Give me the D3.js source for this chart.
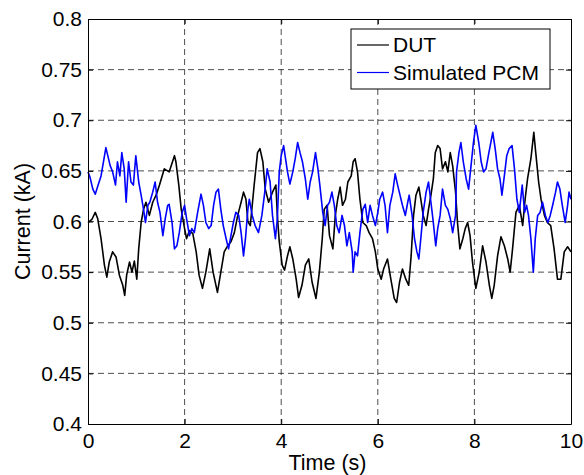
<!DOCTYPE html>
<html>
<head>
<meta charset="utf-8">
<script src="https://cdn.jsdelivr.net/npm/d3@7"></script>
<style>
  body { margin: 0; background: #fff; }
  svg text { font-family: "Liberation Sans", Arial, sans-serif; }
</style>
</head>
<body>
<div id="plot"></div>
<script>
// Data (time in s, current in kA)
const dutTime = [0, 0.08, 0.15, 0.20, 0.27, 0.34, 0.39, 0.44, 0.51, 0.58, 0.65, 0.72, 0.76, 0.80, 0.86, 0.91, 0.96, 1.01, 1.05, 1.10,
  1.15, 1.20, 1.27, 1.34, 1.41, 1.48, 1.58, 1.68, 1.79, 1.82, 1.88, 1.93, 2.00, 2.04, 2.10, 2.17, 2.24, 2.30, 2.37, 2.44,
  2.52, 2.59, 2.68, 2.75, 2.82, 2.89, 2.96, 3.03, 3.10, 3.17, 3.22, 3.27, 3.31, 3.36, 3.44, 3.51, 3.56, 3.62, 3.67, 3.74,
  3.82, 3.89, 3.92, 3.96, 4.02, 4.07, 4.13, 4.18, 4.24, 4.31, 4.36, 4.43, 4.50, 4.57, 4.64, 4.72, 4.79, 4.85, 4.89, 4.95,
  5.00, 5.07, 5.12, 5.17, 5.22, 5.27, 5.33, 5.38, 5.45, 5.49, 5.53, 5.58, 5.63, 5.69, 5.76, 5.82, 5.89, 5.95, 6.00, 6.07,
  6.12, 6.20, 6.27, 6.34, 6.39, 6.45, 6.51, 6.58, 6.64, 6.69, 6.74, 6.79, 6.85, 6.89, 6.94, 7.00, 7.05, 7.10, 7.15, 7.19,
  7.24, 7.29, 7.34, 7.40, 7.45, 7.50, 7.55, 7.61, 7.65, 7.70, 7.76, 7.81, 7.86, 7.91, 7.96, 8.03, 8.10, 8.17, 8.24, 8.31,
  8.36, 8.41, 8.48, 8.55, 8.62, 8.69, 8.74, 8.79, 8.86, 8.93, 9.00, 9.05, 9.10, 9.17, 9.23, 9.27, 9.33, 9.38, 9.45, 9.51,
  9.58, 9.65, 9.72, 9.79, 9.86, 9.93, 10.0];
const dutCurrent = [0.599, 0.602, 0.609, 0.603, 0.583, 0.557, 0.545, 0.560, 0.570, 0.565, 0.547, 0.537, 0.527, 0.547, 0.560, 0.550, 0.561, 0.543, 0.573, 0.599,
  0.612, 0.619, 0.606, 0.619, 0.626, 0.636, 0.652, 0.649, 0.665, 0.659, 0.636, 0.612, 0.593, 0.583, 0.591, 0.588, 0.570, 0.547, 0.534, 0.550,
  0.573, 0.550, 0.530, 0.550, 0.570, 0.576, 0.580, 0.589, 0.606, 0.619, 0.629, 0.622, 0.600, 0.596, 0.636, 0.668, 0.672, 0.659, 0.632, 0.619,
  0.629, 0.636, 0.606, 0.580, 0.557, 0.552, 0.566, 0.575, 0.563, 0.543, 0.525, 0.537, 0.557, 0.563, 0.540, 0.524, 0.550, 0.583, 0.612, 0.616,
  0.586, 0.573, 0.606, 0.622, 0.634, 0.616, 0.622, 0.639, 0.645, 0.659, 0.662, 0.649, 0.622, 0.599, 0.596, 0.589, 0.583, 0.570, 0.553, 0.543,
  0.553, 0.563, 0.543, 0.524, 0.520, 0.540, 0.553, 0.543, 0.537, 0.566, 0.606, 0.626, 0.634, 0.622, 0.606, 0.596, 0.612, 0.626, 0.642, 0.668,
  0.675, 0.672, 0.652, 0.659, 0.649, 0.668, 0.655, 0.629, 0.599, 0.573, 0.583, 0.593, 0.599, 0.586, 0.560, 0.534, 0.550, 0.576, 0.560, 0.537,
  0.524, 0.537, 0.566, 0.585, 0.576, 0.563, 0.550, 0.573, 0.609, 0.616, 0.596, 0.622, 0.642, 0.662, 0.688, 0.668, 0.639, 0.622, 0.606, 0.599,
  0.596, 0.573, 0.543, 0.543, 0.570, 0.575, 0.570];

const pcmTime = [0, 0.04, 0.10, 0.15, 0.21, 0.27, 0.32, 0.37, 0.41, 0.46, 0.51, 0.57, 0.61, 0.66, 0.70, 0.75, 0.79, 0.84, 0.89, 0.94,
  0.99, 1.05, 1.10, 1.15, 1.19, 1.24, 1.28, 1.34, 1.39, 1.44, 1.49, 1.55, 1.60, 1.65, 1.68, 1.74, 1.79, 1.84, 1.89, 1.95,
  2.00, 2.04, 2.10, 2.15, 2.20, 2.27, 2.34, 2.39, 2.44, 2.50, 2.55, 2.60, 2.65, 2.70, 2.75, 2.80, 2.86, 2.91, 2.96, 3.01,
  3.06, 3.12, 3.17, 3.22, 3.26, 3.31, 3.34, 3.40, 3.46, 3.53, 3.60, 3.66, 3.71, 3.77, 3.82, 3.88, 3.92, 3.96, 4.00, 4.05,
  4.09, 4.13, 4.18, 4.24, 4.29, 4.34, 4.39, 4.44, 4.50, 4.55, 4.60, 4.65, 4.71, 4.76, 4.80, 4.86, 4.91, 4.96, 5.00, 5.05,
  5.10, 5.15, 5.20, 5.26, 5.31, 5.36, 5.41, 5.47, 5.49, 5.53, 5.58, 5.63, 5.69, 5.74, 5.79, 5.84, 5.89, 5.95, 6.00, 6.04,
  6.10, 6.15, 6.20, 6.25, 6.31, 6.36, 6.41, 6.46, 6.51, 6.57, 6.62, 6.65, 6.71, 6.76, 6.81, 6.85, 6.89, 6.94, 7.00, 7.05,
  7.10, 7.14, 7.20, 7.24, 7.29, 7.34, 7.40, 7.45, 7.50, 7.55, 7.61, 7.63, 7.68, 7.72, 7.77, 7.83, 7.88, 7.93, 7.98, 8.03,
  8.09, 8.14, 8.19, 8.24, 8.30, 8.34, 8.38, 8.43, 8.48, 8.53, 8.57, 8.62, 8.67, 8.72, 8.78, 8.83, 8.88, 8.93, 8.99, 9.04,
  9.08, 9.12, 9.17, 9.22, 9.26, 9.31, 9.36, 9.41, 9.47, 9.52, 9.57, 9.62, 9.68, 9.72, 9.77, 9.82, 9.88, 9.93, 9.96, 10.0];
const pcmCurrent = [0.649, 0.644, 0.632, 0.627, 0.636, 0.645, 0.659, 0.673, 0.665, 0.655, 0.649, 0.636, 0.659, 0.645, 0.668, 0.652, 0.619, 0.659, 0.639, 0.636,
  0.665, 0.639, 0.626, 0.612, 0.599, 0.616, 0.619, 0.629, 0.639, 0.619, 0.609, 0.586, 0.603, 0.616, 0.617, 0.599, 0.573, 0.576, 0.589, 0.609,
  0.616, 0.603, 0.586, 0.593, 0.589, 0.609, 0.627, 0.616, 0.599, 0.593, 0.596, 0.616, 0.629, 0.632, 0.612, 0.596, 0.583, 0.573, 0.586, 0.599,
  0.609, 0.606, 0.589, 0.566, 0.583, 0.612, 0.622, 0.606, 0.596, 0.589, 0.606, 0.629, 0.652, 0.639, 0.606, 0.583, 0.603, 0.649, 0.665, 0.675,
  0.662, 0.649, 0.637, 0.649, 0.662, 0.678, 0.668, 0.659, 0.642, 0.622, 0.639, 0.649, 0.668, 0.652, 0.636, 0.609, 0.596, 0.616, 0.619, 0.629,
  0.616, 0.596, 0.589, 0.606, 0.596, 0.576, 0.589, 0.570, 0.550, 0.570, 0.566, 0.589, 0.612, 0.617, 0.599, 0.616, 0.606, 0.596, 0.609, 0.622,
  0.629, 0.616, 0.589, 0.616, 0.629, 0.647, 0.636, 0.626, 0.616, 0.606, 0.619, 0.626, 0.606, 0.583, 0.570, 0.563, 0.583, 0.609, 0.629, 0.639,
  0.619, 0.603, 0.576, 0.593, 0.606, 0.632, 0.616, 0.612, 0.603, 0.589, 0.606, 0.649, 0.668, 0.678, 0.659, 0.642, 0.632, 0.655, 0.678, 0.695,
  0.678, 0.659, 0.649, 0.652, 0.668, 0.678, 0.688, 0.672, 0.652, 0.642, 0.626, 0.645, 0.665, 0.672, 0.675, 0.652, 0.622, 0.609, 0.636, 0.609,
  0.616, 0.606, 0.583, 0.550, 0.583, 0.606, 0.609, 0.619, 0.606, 0.599, 0.606, 0.616, 0.629, 0.639, 0.632, 0.616, 0.599, 0.616, 0.629, 0.622];

const xTicks = [0, 2, 4, 6, 8, 10];
const yTicks = [0.4, 0.45, 0.5, 0.55, 0.6, 0.65, 0.7, 0.75, 0.8];
const seriesNames = ["DUT", "Simulated PCM"];
const seriesColors = ["#000000", "#0000ff"];

// Layout
const margin = { top: 19, right: 13, bottom: 51, left: 88 };
const totalWidth = 584, totalHeight = 475;
const width = totalWidth - margin.left - margin.right;
const height = totalHeight - margin.top - margin.bottom;
const tickFont = 21, titleFont = 21.5;

const svg = d3.select("#plot")
    .append("svg")
    .attr("width", totalWidth)
    .attr("height", totalHeight)
    .append("g")
    .attr("transform", `translate(${margin.left},${margin.top})`);

const xScale = d3.scaleLinear().domain([0, 10]).range([0, width]);
const yScale = d3.scaleLinear().domain([0.4, 0.8]).range([height, 0]);

// Grid lines (dashed)
svg.append("g")
    .selectAll("line")
    .data(xTicks.slice(1, -1))
    .enter()
    .append("line")
    .attr("x1", d => xScale(d)).attr("x2", d => xScale(d))
    .attr("y1", 0).attr("y2", height)
    .attr("stroke", "#222").attr("stroke-width", 0.8)
    .attr("stroke-dasharray", "6,4");

svg.append("g")
    .selectAll("line")
    .data(yTicks.slice(1, -1))
    .enter()
    .append("line")
    .attr("x1", 0).attr("x2", width)
    .attr("y1", d => yScale(d)).attr("y2", d => yScale(d))
    .attr("stroke", "#222").attr("stroke-width", 0.8)
    .attr("stroke-dasharray", "6,4");

// Series
const lineGen = d3.line()
    .x(d => xScale(d[0]))
    .y(d => yScale(d[1]));

const dutData = dutTime.map((t, i) => [t, dutCurrent[i]]);
const pcmData = pcmTime.map((t, i) => [t, pcmCurrent[i]]);

svg.append("path")
    .datum(dutData)
    .attr("d", lineGen)
    .attr("fill", "none")
    .attr("stroke", seriesColors[0])
    .attr("stroke-width", 1.6)
    .attr("stroke-linejoin", "round");

svg.append("path")
    .datum(pcmData)
    .attr("d", lineGen)
    .attr("fill", "none")
    .attr("stroke", seriesColors[1])
    .attr("stroke-width", 1.6)
    .attr("stroke-linejoin", "round");

// Axes (ticks pointing inward, MATLAB style)
const xAxis = svg.append("g")
    .attr("transform", `translate(0,${height})`)
    .call(d3.axisBottom(xScale).tickValues(xTicks).tickSizeInner(-5).tickSizeOuter(0).tickPadding(9).tickFormat(d3.format("d")));
const xAxisTop = svg.append("g")
    .call(d3.axisTop(xScale).tickValues(xTicks).tickSizeInner(-5).tickSizeOuter(0).tickFormat(""));
const yAxis = svg.append("g")
    .call(d3.axisLeft(yScale).tickValues(yTicks).tickSizeInner(-5).tickSizeOuter(0).tickPadding(6).tickFormat(d => String(+d.toFixed(2))));
const yAxisRight = svg.append("g")
    .attr("transform", `translate(${width},0)`)
    .call(d3.axisRight(yScale).tickValues(yTicks).tickSizeInner(-5).tickSizeOuter(0).tickFormat(""));

[xAxis, xAxisTop, yAxis, yAxisRight].forEach(g => {
    g.select(".domain").attr("stroke", "#000").attr("stroke-width", 1);
    g.selectAll(".tick line").attr("stroke", "#000");
    g.selectAll("text").attr("font-size", tickFont).attr("fill", "#000")
        .style("font-family", "'Liberation Sans', Arial, sans-serif");
});

// Axis titles
svg.append("text")
    .attr("x", width / 2 - 2)
    .attr("y", height + 46)
    .attr("text-anchor", "middle")
    .attr("font-size", titleFont)
    .text("Time (s)");

svg.append("text")
    .attr("transform", "rotate(-90)")
    .attr("x", -height / 2)
    .attr("y", -58)
    .attr("text-anchor", "middle")
    .attr("font-size", titleFont)
    .text("Current (kA)");

// Legend
const legend = svg.append("g")
    .attr("transform", `translate(${351 - margin.left},${29 - margin.top})`);

legend.append("rect")
    .attr("width", 199)
    .attr("height", 60)
    .attr("fill", "#fff")
    .attr("stroke", "#000")
    .attr("stroke-width", 1);

seriesNames.forEach((name, i) => {
    const rowY = 16 + i * 27.5;
    legend.append("line")
        .attr("x1", 6).attr("x2", 38)
        .attr("y1", rowY).attr("y2", rowY)
        .attr("stroke", seriesColors[i])
        .attr("stroke-width", 1.2);
    legend.append("text")
        .attr("x", 42)
        .attr("y", rowY)
        .attr("dy", "0.35em")
        .attr("font-size", 21)
        .text(name);
});
</script>
</body>
</html>
